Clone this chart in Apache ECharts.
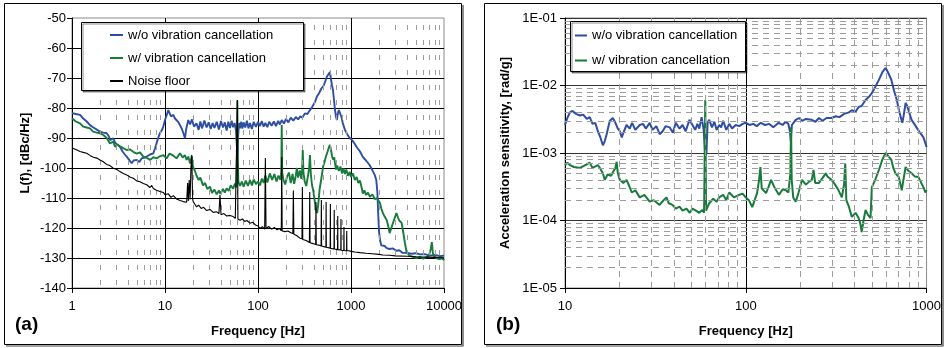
<!DOCTYPE html>
<html><head><meta charset="utf-8">
<script src="https://cdn.jsdelivr.net/npm/echarts@6.0.0/dist/echarts.min.js"></script>
<style>html,body{margin:0;padding:0;background:#fff}#c{width:944px;height:348px}</style>
</head><body><div id="c"></div>
<script>
// ---------- Panel (a): phase noise L(f) [dBc/Hz] vs frequency [Hz] ----------
const woCancelA = [[1,-81.7],[1.1,-82],[1.22,-82.3],[1.32,-83.5],[1.44,-84.5],[1.56,-85.7],[1.7,-86.5],[1.85,-87.2],[2.0,-87.9],[2.17,-88.2],[2.36,-88.4],[2.5,-89.5],[2.56,-90.7],[2.67,-90.5],[2.78,-90.1],[2.9,-91.5],[3.05,-92.2],[3.28,-92.9],[3.5,-94.5],[3.7,-95.5],[3.87,-96.2],[4.1,-97.2],[4.38,-98.4],[4.6,-97.5],[4.96,-97.3],[5.3,-98],[5.6,-96.8],[6.1,-96.5],[6.35,-96.2],[6.9,-95.5],[7.5,-95.1],[7.8,-93.5],[8.1,-91.8],[8.4,-90.2],[8.8,-88.4],[9.2,-87.5],[9.6,-86.2],[10,-84],[10.4,-82.5],[10.85,-80.7],[11.2,-81.2],[11.6,-82.8],[12.3,-82.3],[12.8,-83.5],[13.3,-83],[14,-84.8],[14.5,-84.6],[15.2,-87],[15.8,-88.5],[16.4,-90.1],[16.9,-87],[17.8,-84],[18.6,-85.5],[19.5,-83.8],[20.5,-86.2],[21.8,-85.1],[23,-87.3],[24,-84.5],[25,-86.8],[26.5,-84.2],[28,-86.5],[29.5,-84.8],[31,-87],[32.5,-85],[34,-86.6],[36,-84.6],[38,-87.2],[40,-84.3],[42,-86.5],[44,-84.8],[46,-87.5],[48,-84.6],[50,-86.7],[52,-84.2],[54,-86.4],[56,-85],[58,-87.5],[59.3,-93],[60,-95.7],[61,-90],[62.5,-85],[64,-86.8],[66,-84.6],[68,-86.9],[70,-84.8],[73,-86.5],[76,-84.2],[79,-86.8],[82,-85],[86,-87],[90,-84.6],[95,-86.3],[100,-84.6],[105,-86],[110,-84.4],[115,-86.2],[120,-85],[126,-86.4],[132,-84.6],[140,-85.9],[148,-84.5],[156,-86],[165,-84.3],[172,-85.5],[180,-84],[190,-85.2],[200,-83.6],[212,-84.8],[225,-83.2],[240,-84.2],[255,-83],[270,-83.8],[285,-82.8],[300,-83.2],[320,-81.8],[340,-82],[362,-80.7],[385,-79.5],[410,-78],[430,-76.2],[455,-75],[480,-73.5],[510,-72.5],[550,-69.6],[575,-69],[594,-68],[610,-70.5],[625,-72.5],[640,-74],[655,-77],[672,-80.5],[690,-83],[705,-84],[720,-82],[740,-80.7],[760,-80.5],[790,-83],[816,-85],[860,-87.3],[920,-89],[970,-90],[1026,-90.7],[1100,-92],[1150,-93],[1250,-94.5],[1340,-96.3],[1450,-97.5],[1585,-99],[1700,-100.8],[1800,-102.3],[1870,-104],[1920,-108],[1960,-115],[2000,-121],[2050,-124],[2120,-125.8],[2200,-126.3],[2300,-126],[2420,-126.7],[2600,-127],[2800,-126.8],[3080,-127.6],[3300,-127.4],[3600,-128.3],[4000,-128.3],[4500,-128.6],[5000,-128.4],[5500,-128.8],[6200,-128.7],[7000,-129.2],[8000,-129],[9000,-129.4],[10000,-129.2]];

const wCancelA = [[1,-83.4],[1.1,-84.5],[1.22,-85.1],[1.32,-86.2],[1.44,-86.5],[1.56,-86.8],[1.69,-87.9],[1.85,-88.2],[2.0,-88.4],[2.17,-89],[2.36,-90],[2.56,-91.8],[2.78,-91.2],[2.9,-92.9],[3.1,-92.2],[3.28,-92.8],[3.56,-93.4],[3.87,-94],[4.2,-93.8],[4.56,-94.6],[4.96,-95.2],[5.38,-94.8],[5.84,-96.2],[6.35,-96.6],[6.9,-97.3],[7.5,-96.4],[8.1,-96.8],[8.8,-96.1],[9.6,-95.7],[10.4,-96.8],[11.2,-95.2],[12.3,-95.9],[13.3,-96.8],[14.5,-95.1],[15.5,-96.5],[16.4,-95.7],[17.1,-97.3],[17.8,-96.2],[18.6,-98.5],[19.4,-96],[20,-99.6],[21,-101],[21.8,-102.5],[23,-104],[24,-103.2],[25.6,-105.8],[27,-105],[28.5,-107],[30.4,-106.2],[32,-108.3],[34,-107.2],[36,-108.8],[38,-107.5],[39.5,-108.6],[42,-107],[44,-108.2],[46,-106.8],[48.5,-107.6],[51,-105.8],[54,-106.9],[56.5,-105.2],[58.5,-106.5],[59.5,-95],[60,-77.5],[60.5,-95],[61.5,-104.5],[64,-106],[67,-104.5],[70,-106.2],[74,-104.2],[78,-106],[82,-104],[86,-105.8],[90,-103.8],[95,-105.4],[100,-104.5],[105,-105.8],[110,-103.5],[115,-105],[120,-102.5],[126,-104.8],[134,-101.8],[142,-104],[150,-102],[158,-104.5],[166,-102.5],[174,-104],[178,-101],[180,-85.7],[182,-101.5],[188,-104],[196,-105.5],[205,-103],[215,-101.5],[225,-105],[235,-102],[245,-105.3],[255,-102.5],[262,-100],[270,-103.2],[282,-100.8],[292,-103.6],[298,-101],[303,-94],[308,-101.5],[318,-104.5],[330,-106],[345,-102.5],[355,-100],[362,-95.7],[370,-102],[380,-105.5],[395,-108],[410,-111.7],[420,-113.8],[432,-115],[445,-112],[460,-107],[480,-103.5],[500,-99.7],[520,-97.8],[540,-96],[560,-94.5],[580,-93],[594,-92.3],[610,-94],[625,-96],[640,-97.2],[660,-96.5],[672,-98.3],[690,-100.5],[710,-99.2],[740,-101],[770,-99.5],[800,-101.8],[830,-100.2],[860,-102],[890,-100.5],[930,-102.6],[970,-101.3],[1000,-103],[1050,-101.8],[1100,-104],[1150,-103],[1200,-105],[1250,-104.2],[1300,-106.5],[1340,-108.5],[1400,-107.5],[1450,-109],[1520,-108.2],[1600,-109.6],[1700,-108.8],[1800,-110.4],[1900,-110],[1960,-110.8],[2050,-111.7],[2120,-113.5],[2200,-115],[2300,-116.2],[2420,-117.3],[2520,-119.5],[2600,-121.7],[2700,-120.2],[2850,-118],[3000,-116],[3080,-115],[3200,-116.5],[3300,-117.5],[3400,-117],[3500,-118.3],[3650,-121.5],[3800,-125],[3960,-128],[4200,-129],[4500,-129.5],[5050,-130],[5500,-129.6],[6000,-130.2],[6500,-129.7],[6900,-129.2],[7200,-127],[7400,-124.7],[7600,-128.5],[8000,-129.8],[8500,-130.2],[9000,-130.4],[9500,-130.1],[10000,-130.7]];

const noiseFloorA = [[1,-93.3],[1.1,-93.8],[1.22,-94.5],[1.32,-94.8],[1.44,-95.1],[1.56,-95.8],[1.7,-96.4],[1.85,-96.7],[2.0,-97.3],[2.17,-97.9],[2.36,-98.8],[2.56,-99.2],[2.78,-100.1],[3.0,-100.4],[3.28,-101.2],[3.56,-101.8],[3.87,-102.3],[4.2,-103],[4.56,-103.4],[4.96,-104.3],[5.38,-104.6],[5.84,-105.2],[6.35,-105.6],[6.9,-106.5],[7.2,-105.8],[7.5,-106.8],[8.1,-107.4],[8.8,-107.8],[9.6,-108.2],[10,-108.9],[10.4,-109.3],[10.85,-108.6],[11.6,-109.8],[12.3,-109.2],[13.3,-110.3],[14.5,-110.8],[15.7,-111.2],[16.4,-110.6],[17.1,-111.4],[17.5,-105],[17.8,-111],[18.2,-104],[18.6,-110.5],[19.0,-100],[19.4,-95.7],[19.8,-110.2],[20.1,-111.2],[21,-111.8],[21.8,-112.9],[23,-112.4],[24.5,-113.5],[26,-113.1],[28,-114.2],[30.4,-113.8],[33,-114.8],[36,-114.6],[38,-115.2],[39,-109],[40,-115.6],[43,-115.2],[46,-116],[50,-115.8],[54,-116.2],[57,-116.8],[59.2,-116.5],[60,-77.3],[60.8,-117],[64,-117.4],[68,-117],[72,-117.8],[76,-117.5],[82,-118.4],[88,-118.1],[94,-119],[100,-119.3],[105,-120.1],[112,-119.6],[118,-120.4],[120,-96.7],[122,-120.2],[130,-119.5],[140,-120.4],[150,-119.8],[160,-120.6],[170,-120.2],[178,-120.9],[180,-96.3],[182,-121],[195,-121.2],[210,-121],[225,-121.6],[237,-121.8],[240,-107.5],[243,-122.1],[260,-122.5],[282,-123.4],[297,-123.6],[300,-106.3],[303,-123.8],[330,-124.2],[357,-124.8],[360,-108],[363,-124.9],[390,-125.2],[417,-125.5],[420,-111.3],[423,-125.6],[450,-125.7],[477,-126],[480,-110.7],[483,-126],[510,-126.2],[537,-126.4],[540,-111.3],[543,-126.4],[570,-126.6],[597,-126.7],[600,-112],[603,-126.8],[630,-126.9],[657,-127],[660,-114],[663,-127],[690,-127.1],[717,-127.2],[720,-116],[723,-127.2],[750,-127.3],[777,-127.3],[780,-117],[783,-127.4],[810,-127.4],[837,-127.5],[840,-119.7],[843,-127.5],[870,-127.5],[897,-127.6],[900,-121],[903,-127.6],[950,-127.6],[1000,-127.8],[1100,-128],[1250,-128.2],[1450,-128.4],[1700,-128.6],[2000,-128.8],[2200,-129],[2600,-129.1],[3000,-129.3],[4000,-129.4],[5050,-129.6],[6500,-129.7],[8000,-129.8],[10000,-129.9]];

// ---------- Panel (b): acceleration sensitivity [rad/g] vs frequency [Hz] ----------
const woCancelB = [[10,0.0026],[10.3,0.0033],[10.65,0.0040],[11,0.0042],[11.5,0.0038],[12.1,0.0036],[12.6,0.0037],[13.2,0.0032],[13.7,0.0034],[14.2,0.0027],[14.7,0.0028],[15.2,0.0021],[15.7,0.0017],[16.2,0.0013],[16.6,0.0015],[17.0,0.0019],[17.4,0.0025],[17.7,0.0030],[18.4,0.0033],[19.0,0.0028],[19.6,0.0023],[20.1,0.0021],[20.6,0.0017],[21.2,0.0021],[21.9,0.0026],[22.8,0.0023],[23.5,0.0028],[24.5,0.0022],[25.9,0.0026],[27,0.0027],[28,0.0023],[29.4,0.0028],[30.5,0.0022],[32,0.0025],[33.4,0.0019],[34.7,0.0021],[36,0.0025],[37.9,0.0024],[39.5,0.0020],[41,0.0028],[43,0.0023],[44.7,0.0026],[46.5,0.0021],[48.8,0.0031],[50.7,0.0026],[52.5,0.0022],[54,0.0027],[55.3,0.0023],[57,0.0034],[58.5,0.0022],[59.7,0.0009],[60.6,0.0010],[61.5,0.0028],[62.8,0.0031],[65,0.0024],[67,0.0029],[69,0.0022],[71.3,0.0026],[73,0.0024],[75,0.0030],[78,0.0022],[81,0.0027],[84,0.0023],[88,0.0026],[92,0.0025],[96,0.0027],[100,0.0028],[105,0.0026],[110,0.0027],[115,0.0025],[121,0.0028],[128,0.0026],[135,0.0027],[142,0.0024],[152,0.0028],[160,0.0026],[166,0.0029],[172,0.0027],[175.5,0.0021],[177.5,0.0015],[180,0.0026],[189,0.0031],[197,0.0033],[205,0.0030],[215,0.0032],[232,0.0031],[243,0.0029],[254,0.0033],[266,0.0030],[280,0.0033],[298,0.0033],[315,0.0035],[330,0.0034],[350,0.0038],[372,0.0040],[386,0.0043],[405,0.0041],[421,0.0048],[438,0.0050],[460,0.0061],[480,0.0068],[498,0.0077],[520,0.0095],[545,0.0121],[570,0.0158],[594,0.0182],[610,0.0160],[639,0.0121],[660,0.0085],[685,0.0061],[705,0.0042],[720,0.0034],[735,0.0028],[750,0.0038],[766,0.0055],[780,0.0050],[795,0.0043],[826,0.0031],[855,0.0027],[880,0.0024],[920,0.0020],[962,0.0017],[985,0.0014],[1000,0.00123]];

const wCancelB = [[10,0.00066],[10.3,0.00072],[10.65,0.00066],[11.2,0.00062],[12.1,0.0006],[12.8,0.00065],[13.7,0.00072],[14.2,0.0006],[15.2,0.00066],[15.6,0.0006],[16.2,0.0005],[16.6,0.0004],[17.2,0.00048],[18.0,0.00046],[18.4,0.00052],[19.0,0.0006],[19.3,0.00074],[19.6,0.0005],[20.1,0.0004],[21,0.00036],[21.9,0.0004],[22.6,0.00033],[23.4,0.00026],[24.5,0.00028],[25.9,0.00022],[27.5,0.00024],[29.4,0.00019],[31,0.0002],[33.4,0.00017],[34.5,0.00019],[36.4,0.00022],[37.5,0.00018],[39.3,0.00017],[41,0.00015],[43,0.00016],[44.7,0.00014],[47,0.00015],[49,0.00013],[50.7,0.00015],[53,0.00014],[55.3,0.00013],[57.5,0.000143],[58.8,0.00013],[59.7,0.0061],[60.3,0.00014],[61.5,0.00016],[62.8,0.00018],[66,0.00021],[69,0.00019],[71.3,0.00022],[75,0.00024],[78,0.0002],[81,0.00026],[86,0.00022],[92,0.00024],[96,0.00025],[100,0.00022],[104,0.0002],[108.6,0.000158],[112,0.0002],[115.5,0.000255],[118.5,0.0004],[120.5,0.00062],[122.5,0.0003],[129.5,0.000255],[134,0.00032],[138,0.0004],[145,0.0003],[152.5,0.00024],[160,0.00029],[166.5,0.00028],[172,0.00026],[176.5,0.0005],[178,0.0024],[179.5,0.0004],[183,0.00022],[189,0.00019],[196,0.00026],[204.5,0.0004],[215,0.00034],[225,0.00038],[232,0.0004],[237,0.00056],[242,0.00036],[254,0.00036],[265,0.00042],[277,0.0005],[283,0.00045],[298,0.0004],[312,0.00034],[326,0.00028],[340,0.00022],[350,0.00035],[355,0.0007],[360,0.0002],[372,0.00016],[386,0.000113],[405,0.00013],[421,0.000109],[430,0.00009],[438,0.0000676],[448,0.0001],[460,0.000143],[475,0.00012],[490,0.000109],[498,0.00031],[520,0.0004],[545,0.00056],[570,0.0008],[594,0.001],[615,0.0009],[639,0.00079],[655,0.0006],[673,0.0005],[702,0.00044],[729,0.00028],[745,0.0004],[766,0.00062],[790,0.00055],[826,0.0005],[860,0.00045],[903,0.00044],[940,0.00035],[962,0.00031],[985,0.00026],[1000,0.00028]];

// ---------- names, axis ranges, tick labels ----------
const seriesNamesA = ['w/o vibration cancellation', 'w/ vibration cancellation', 'Noise floor'];
const seriesNamesB = ['w/o vibration cancellation', 'w/ vibration cancellation'];
const decadesA = [1, 10, 100, 1000];          // x axis (a): 1 .. 10000
const decadesBx = [10, 100];                   // x axis (b): 10 .. 1000
const decadesBy = [1e-5, 1e-4, 1e-3, 1e-2];    // y axis (b): 1E-05 .. 1E-01
const yTickLabelsB = ['1E-05', '1E-04', '1E-03', '1E-02', '1E-01'];

const FONT = "'Liberation Sans', Arial, sans-serif";
const BLUE = '#2D4EA3', GREEN = '#177B3B', BLACK = '#000';

function minors(decs) { const out = []; decs.forEach(d => { for (let k = 2; k <= 9; k++) out.push(+(d * k).toPrecision(6)); }); return out; }

function minorGrid(xi, yi, xs, ys, dash, off) {
  const data = [];
  xs.forEach(v => data.push({ xAxis: v }));
  ys.forEach(v => data.push({ yAxis: v }));
  return {
    type: 'line', xAxisIndex: xi, yAxisIndex: yi, data: [], z: 1, silent: true,
    markLine: { silent: true, precision: 12, symbol: ['none', 'none'], label: { show: false }, animation: false,
      emphasis: { disabled: true },
      lineStyle: { color: '#9c9c9c', width: 1, type: dash, dashOffset: off }, data }
  };
}

const axisText = { color: '#000', fontFamily: FONT, fontSize: 13 };
const nameText = { color: '#000', fontFamily: FONT, fontSize: 13, fontWeight: 'bold' };

function logX(grid, min, max) {
  return {
    type: 'log', logBase: 10, gridIndex: grid, min, max,
    axisLine: { onZero: false, lineStyle: { color: '#000', width: 1 } },
    axisTick: { show: true, length: 5, lineStyle: { color: '#000' } },
    axisLabel: Object.assign({ margin: 12, formatter: v => String(Math.round(v)) }, axisText),
    splitLine: { show: true, showMinLine: false, showMaxLine: false, lineStyle: { color: '#000', width: 1 } },
    name: 'Frequency [Hz]', nameLocation: 'middle', nameGap: 37, nameTextStyle: nameText
  };
}

const option = {
  backgroundColor: '#fff',
  animation: false,
  grid: [
    { left: 72, top: 18, width: 372, height: 270, show: true, borderColor: '#8a8a8a', borderWidth: 1, backgroundColor: 'transparent' },
    { left: 565, top: 18, width: 363, height: 270, show: true, borderColor: '#8a8a8a', borderWidth: 1, backgroundColor: 'transparent' }
  ],
  xAxis: [ logX(0, 1, 10000), logX(1, 10, 1000) ],
  yAxis: [
    { type: 'value', gridIndex: 0, min: -140, max: -50, interval: 10,
      axisLine: { onZero: false, lineStyle: { color: '#000' } },
      axisTick: { show: true, length: 5, lineStyle: { color: '#000' } },
      axisLabel: Object.assign({ margin: 6 }, axisText),
      splitLine: { show: true, showMinLine: false, showMaxLine: false, lineStyle: { color: '#000', width: 1 } },
      name: 'L(f), [dBc/Hz]', nameLocation: 'middle', nameGap: 40, nameTextStyle: nameText },
    { type: 'log', logBase: 10, gridIndex: 1, min: 1e-5, max: 1e-1,
      axisLine: { onZero: false, lineStyle: { color: '#000' } },
      axisTick: { show: true, length: 5, lineStyle: { color: '#000' } },
      axisLabel: Object.assign({ margin: 8, formatter: v => yTickLabelsB[Math.round(Math.log10(v)) + 5] }, axisText),
      splitLine: { show: true, showMinLine: false, showMaxLine: false, lineStyle: { color: '#333', width: 1 } },
      name: 'Acceleration sensitivity, [rad/g]', nameLocation: 'middle', nameGap: 53, nameTextStyle: nameText }
  ],
  legend: [
    { data: seriesNamesA, orient: 'vertical', left: 110, top: 28.5, itemGap: 10, itemWidth: 13, itemHeight: 2,
      icon: 'rect', padding: 0, z: 12, selectedMode: false, textStyle: axisText },
    { data: seriesNamesB, orient: 'vertical', left: 575, top: 29, itemGap: 12, itemWidth: 12, itemHeight: 2,
      icon: 'rect', padding: 0, z: 12, selectedMode: false, textStyle: axisText }
  ],
  series: [
    minorGrid(0, 0, minors(decadesA), [], [5, 10], 12),
    minorGrid(1, 1, minors(decadesBx), minors(decadesBy), [6, 5], 0),
    { name: seriesNamesA[0], type: 'line', xAxisIndex: 0, yAxisIndex: 0, data: woCancelA, showSymbol: false, symbol: 'none',
      lineStyle: { color: BLUE, width: 1.9 }, itemStyle: { color: BLUE }, z: 3 },
    { name: seriesNamesA[1], type: 'line', xAxisIndex: 0, yAxisIndex: 0, data: wCancelA, showSymbol: false, symbol: 'none',
      lineStyle: { color: GREEN, width: 1.9 }, itemStyle: { color: GREEN }, z: 4 },
    { name: seriesNamesA[2], type: 'line', xAxisIndex: 0, yAxisIndex: 0, data: noiseFloorA, showSymbol: false, symbol: 'none',
      lineStyle: { color: BLACK, width: 1.1 }, itemStyle: { color: BLACK }, z: 5 },
    { name: seriesNamesB[0], type: 'line', xAxisIndex: 1, yAxisIndex: 1, data: woCancelB, showSymbol: false, symbol: 'none',
      lineStyle: { color: BLUE, width: 2 }, itemStyle: { color: BLUE }, z: 3 },
    { name: seriesNamesB[1], type: 'line', xAxisIndex: 1, yAxisIndex: 1, data: wCancelB, showSymbol: false, symbol: 'none',
      lineStyle: { color: GREEN, width: 2 }, itemStyle: { color: GREEN }, z: 4 }
  ],
  graphic: [
    // panel frames
    { type: 'rect', z: 20, silent: true, shape: { x: 4.5, y: 3.5, width: 457, height: 341 }, style: { fill: null, stroke: '#000', lineWidth: 1 } },
    { type: 'polyline', z: 20, silent: true, shape: { points: [[463, 5], [463, 346], [6, 346]] }, style: { fill: null, stroke: '#444', lineWidth: 1.2 } },
    { type: 'rect', z: 20, silent: true, shape: { x: 484.5, y: 3.5, width: 457, height: 341 }, style: { fill: null, stroke: '#000', lineWidth: 1 } },
    { type: 'polyline', z: 20, silent: true, shape: { points: [[943, 5], [943, 346], [486, 346]] }, style: { fill: null, stroke: '#444', lineWidth: 1.2 } },
    // legend boxes
    { type: 'rect', z: 10, silent: true, shape: { x: 81.5, y: 22.5, width: 222, height: 68 },
      style: { fill: '#fff', stroke: '#000', lineWidth: 1, shadowColor: 'rgba(0,0,0,0.45)', shadowOffsetX: 1.5, shadowOffsetY: 1.5, shadowBlur: 0 } },
    { type: 'rect', z: 10, silent: true, shape: { x: 570.5, y: 21.5, width: 175, height: 50 },
      style: { fill: '#fff', stroke: '#000', lineWidth: 1, shadowColor: 'rgba(0,0,0,0.45)', shadowOffsetX: 1.5, shadowOffsetY: 1.5, shadowBlur: 0 } },
    // panel tags
    { type: 'text', z: 20, left: 15, top: 315, style: { text: '(a)', font: "bold 19px 'Liberation Sans', Arial, sans-serif", fill: '#000' } },
    { type: 'text', z: 20, left: 496, top: 315, style: { text: '(b)', font: "bold 19px 'Liberation Sans', Arial, sans-serif", fill: '#000' } }
  ]
};

const chart = echarts.init(document.getElementById('c'), null, { renderer: 'canvas' });
chart.setOption(option);
</script>
</body></html>
